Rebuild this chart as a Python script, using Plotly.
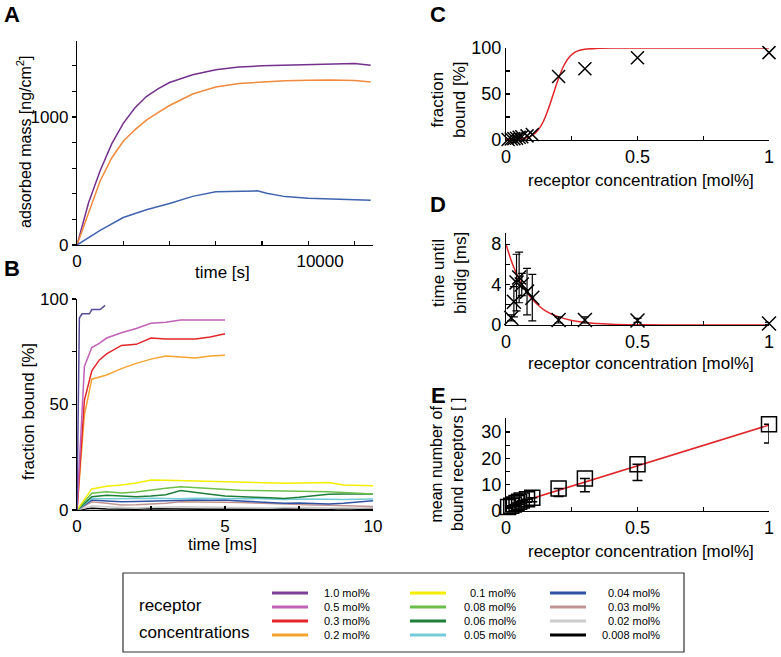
import plotly.graph_objects as go

W, H = 781, 657
FONT = "Liberation Sans, Arial, sans-serif"

# ---------------- data ----------------
# Panel A: adsorbed mass vs time
a_time_purple = [0, 500, 1000, 1500, 2000, 2500, 3000, 3500, 4000, 5000, 6000, 7000, 8000, 9000, 10000, 11000, 12000, 12700]
a_mass_purple = [0, 330, 580, 790, 950, 1070, 1160, 1220, 1270, 1330, 1370, 1390, 1400, 1405, 1410, 1413, 1418, 1405]
a_time_orange = [0, 500, 1000, 1500, 2000, 2500, 3000, 3500, 4000, 5000, 6000, 7000, 8000, 9000, 10000, 11000, 12000, 12700]
a_mass_orange = [0, 250, 500, 680, 810, 900, 975, 1035, 1090, 1180, 1235, 1262, 1275, 1283, 1288, 1290, 1285, 1273]
a_time_blue = [0, 1000, 2000, 3000, 4000, 5000, 6000, 7000, 7800, 8200, 9000, 10000, 11000, 12000, 12700]
a_mass_blue = [0, 115, 215, 275, 325, 380, 416, 422, 423, 405, 378, 366, 360, 355, 350]
a_colors = ["#73308c", "#f08a3c", "#4063ad"]

# Panel B: fraction bound vs time [ms]
b_t_10 = [0, 0.08, 0.17, 0.42, 0.5, 0.78, 0.95]
b_f_10 = [0, 91, 93, 93, 95, 95, 97]
b_t_hi = [0, 0.25, 0.5, 0.75, 1, 1.5, 2, 2.5, 3, 3.5, 4, 4.5, 5]
b_f_05 = [0, 68, 77, 79, 81.5, 84, 86, 88.5, 89, 90, 90, 90, 90]
b_f_03 = [0, 52, 66, 71, 74, 78, 78.5, 81.5, 81, 81, 81, 82, 83.5]
b_f_02 = [0, 45, 62, 63, 64, 67, 69.5, 71.5, 73, 72.5, 72, 73, 73.3]
b_t_lo = [0, 0.5, 1, 1.5, 2, 2.5, 3, 3.5, 4, 4.5, 5, 5.5, 6, 6.5, 7, 7.5, 8, 8.5, 9, 9.5, 10]
b_f_01 = [0, 10, 11.3, 11.8, 12.8, 14.2, 14.1, 13.9, 13.8, 13.6, 13.4, 13.2, 13, 12.6, 12.7, 12.8, 12.9, 13, 11.8, 11.7, 11.5]
b_f_008 = [0, 7.9, 8.7, 8, 8.5, 9.5, 10.3, 11, 10.6, 10, 9.5, 9.4, 9.3, 9.2, 9.1, 9, 8.8, 8.6, 8.3, 8, 7.6]
b_f_006 = [0, 6.3, 7, 6.5, 6.3, 6.6, 7.2, 9.2, 8.5, 7.5, 6.6, 6.2, 6, 5.8, 5.5, 6, 6.8, 7.5, 7.6, 7.6, 7.6]
b_f_005 = [0, 5.5, 5.3, 5.2, 5.4, 5.6, 5.5, 5.3, 5.6, 5.4, 5.2, 5.3, 5.4, 5.2, 5.0, 5.2, 5.3, 5.1, 5.0, 5.0, 5.2]
b_f_004 = [0, 4.7, 4.3, 3.9, 4, 4.2, 4.5, 4.7, 4.7, 4.6, 4.7, 4.3, 4, 3.6, 3.2, 3.3, 3.1, 2.8, 3.2, 3.8, 4.4]
b_f_003 = [0, 3.9, 3.2, 2.4, 2.5, 2.8, 3.2, 3.9, 3.9, 3.9, 3.9, 3.6, 3.3, 3, 2.8, 2.6, 2.4, 2.2, 2, 1.8, 1.6]
b_f_002 = [0, 1.9, 1.5, 1.2, 1.0, 1.2, 1.4, 1.5, 1.4, 1.3, 1.2, 1.2, 1.1, 1.0, 1.2, 1.3, 1.2, 1.0, 0.9, 1.0, 1.1]
b_f_0008 = [0, 0.8, 0.5, 0.3, 0.4, 0.6, 0.5, 0.3, 0.2, 0.3, 0.4, 0.3, 0.2, 0.4, 0.5, 0.3, 0.2, 0.3, 0.6, 0.4, 0.3]

# Legend / series names and colours
conc_labels = ["1.0 mol%", "0.5 mol%", "0.3 mol%", "0.2 mol%",
               "0.1 mol%", "0.08 mol%", "0.06 mol%", "0.05 mol%",
               "0.04 mol%", "0.03 mol%", "0.02 mol%", "0.008 mol%"]
conc_colors = ["#7f3f98", "#c162b8", "#e3262a", "#f5a431",
               "#f2ee00", "#6dbe4b", "#1f7f3a", "#74cbd8",
               "#3153a3", "#c09493", "#cccccc", "#000000"]

# Panels C, D, E
conc = [0.008, 0.02, 0.03, 0.04, 0.05, 0.06, 0.08, 0.1, 0.2, 0.3, 0.5, 1.0]
c_frac = [0.5, 1, 1.5, 2, 3, 3.5, 4.5, 6, 69, 77.5, 89.5, 95]
c_fit_x = [0, 0.05, 0.08, 0.1, 0.12, 0.14, 0.16, 0.18, 0.2, 0.22, 0.24, 0.26, 0.28, 0.3, 0.35, 0.4, 0.5, 0.6, 0.8, 1.0]
c_fit_y = [0.5, 1, 2.5, 5, 10, 19, 33, 50, 67, 81, 90, 95, 97.5, 98.7, 99.6, 99.9, 100, 100, 100, 100]

d_conc = [0.02, 0.03, 0.04, 0.05, 0.06, 0.08, 0.1, 0.2, 0.3, 0.5, 1.0]
d_time = [0.7, 2.3, 4.2, 4.7, 4.0, 3.3, 2.7, 0.5, 0.5, 0.45, 0.15]
d_err = [0.3, 1.5, 2.8, 2.5, 1.1, 2.3, 2.3, 0.3, 0.3, 0.2, 0.1]
d_fit_x = [0, 0.025, 0.05, 0.075, 0.1, 0.125, 0.15, 0.2, 0.25, 0.3, 0.4, 0.5, 0.6, 0.8, 1.0]
d_fit_y = [8, 6.0, 4.5, 3.4, 2.55, 1.9, 1.4, 0.8, 0.45, 0.25, 0.08, 0.025, 0.01, 0, 0]

e_mean = [1.5, 2, 2.5, 3, 3.5, 4, 4.5, 5, 8.5, 12.3, 17.7, 32.9]
e_errminus = [0.5, 0.5, 0.7, 1, 1, 1, 1.2, 1.5, 3.0, 5.0, 6.1, 7.1]
e_fit_x = [0, 1.0]
e_fit_y = [1.7, 32.6]

# ---------------- figure ----------------
def px(x):
    return x / W

def py(y):
    return 1 - y / H

fig = go.Figure()

lw = 1.5
# Panel A
for xs, ys, col in [(a_time_purple, a_mass_purple, a_colors[0]),
                    (a_time_orange, a_mass_orange, a_colors[1]),
                    (a_time_blue, a_mass_blue, a_colors[2])]:
    fig.add_trace(go.Scatter(x=xs, y=ys, mode="lines", line=dict(color=col, width=lw),
                             xaxis="x", yaxis="y", showlegend=False))

# Panel B
b_series = [
    (b_t_lo, b_f_0008, 11), (b_t_lo, b_f_002, 10), (b_t_lo, b_f_003, 9), (b_t_lo, b_f_004, 8),
    (b_t_lo, b_f_005, 7), (b_t_lo, b_f_006, 6), (b_t_lo, b_f_008, 5), (b_t_lo, b_f_01, 4),
    (b_t_hi, b_f_02, 3), (b_t_hi, b_f_03, 2), (b_t_hi, b_f_05, 1), (b_t_10, b_f_10, 0),
]
for xs, ys, i in b_series:
    col = conc_colors[i] if i != 0 else "#5a4a9a"
    fig.add_trace(go.Scatter(x=xs, y=ys, mode="lines", line=dict(color=col, width=lw),
                             xaxis="x2", yaxis="y2", showlegend=False))

red = "#e0262a"
# Panel C
fig.add_trace(go.Scatter(x=c_fit_x, y=c_fit_y, mode="lines", line=dict(color=red, width=lw, shape="spline"),
                         xaxis="x3", yaxis="y3", showlegend=False))
fig.add_trace(go.Scatter(x=conc, y=c_frac, mode="markers",
                         marker=dict(symbol="x-thin", size=13, line=dict(color="black", width=1.5)),
                         xaxis="x3", yaxis="y3", showlegend=False, cliponaxis=False))
# Panel D
fig.add_trace(go.Scatter(x=d_fit_x, y=d_fit_y, mode="lines", line=dict(color=red, width=lw, shape="spline"),
                         xaxis="x4", yaxis="y4", showlegend=False))
fig.add_trace(go.Scatter(x=d_conc, y=d_time, mode="markers",
                         marker=dict(symbol="x-thin", size=14, line=dict(color="black", width=1.5)),
                         error_y=dict(type="data", array=d_err, color="black", thickness=1.2, width=4),
                         xaxis="x4", yaxis="y4", showlegend=False, cliponaxis=False))
# Panel E
fig.add_trace(go.Scatter(x=e_fit_x, y=e_fit_y, mode="lines", line=dict(color=red, width=lw),
                         xaxis="x5", yaxis="y5", showlegend=False))
fig.add_trace(go.Scatter(x=conc, y=e_mean, mode="markers",
                         marker=dict(symbol="square-open", size=15, color="black", line=dict(color="black", width=1.5)),
                         error_y=dict(type="data", symmetric=False, array=[0] * len(conc), arrayminus=e_errminus,
                                      color="black", thickness=1.5, width=5),
                         xaxis="x5", yaxis="y5", showlegend=False, cliponaxis=False))

def axis(domain, rng, tickvals, ticktext, minorvals, ticks, size, anchor):
    return dict(domain=domain, range=rng, tickmode="array", tickvals=tickvals, ticktext=ticktext,
                ticks=ticks, ticklen=4, tickwidth=1.2, tickcolor="black",
                minor=dict(tickmode="array", tickvals=minorvals, ticks=ticks, ticklen=4,
                           tickwidth=1.2, tickcolor="black", showgrid=False),
                showline=True, linecolor="black", linewidth=1.2, showgrid=False, zeroline=False,
                automargin=False,
                tickfont=dict(family=FONT, size=size, color="black"), anchor=anchor, fixedrange=True)

xdomA = [px(77), px(373)]
xdomR = [px(506), px(769)]
nb = "\u00a0"
layout_axes = dict(
    xaxis=axis(xdomA, [0, 12800], [0, 10000], ["0", nb * 5 + "10000"],
               [2000, 4000, 6000, 8000, 12000], "inside", 17, "y"),
    yaxis=axis([py(245), py(41)], [0, 1594], [0, 1000], ["0", "1000"],
               [200, 400, 600, 800, 1200, 1400], "outside", 17, "x"),
    xaxis2=axis(xdomA, [0, 10], [0, 5, 10], ["0", "5", "10"], [2.5, 7.5], "inside", 17, "y2"),
    yaxis2=axis([py(510), py(299)], [0, 100], [0, 50, 100], ["0", "50", "100"], [25, 75], "outside", 17, "x2"),
    xaxis3=axis(xdomR, [0, 1], [0, 0.5, 1], ["0", "0.5", "1"], [0.25, 0.75], "inside", 18, "y3"),
    yaxis3=axis([py(140), py(48)], [0, 100], [0, 50, 100], ["0", "50", "100"], [25, 75], "inside", 18, "x3"),
    xaxis4=axis(xdomR, [0, 1], [0, 0.5, 1], ["0", "0.5", "1"], [0.25, 0.75], "inside", 18, "y4"),
    yaxis4=axis([py(325), py(233)], [0, 9.1], [0, 4, 8], ["0", "4", "8"], [2, 6], "inside", 18, "x4"),
    xaxis5=axis(xdomR, [0, 1], [0, 0.5, 1], ["0", "0.5", "1"], [0.25, 0.75], "inside", 18, "y5"),
    yaxis5=axis([py(511), py(418)], [0, 35.3], [0, 10, 20, 30], ["0", "10", "20", "30"],
                [5, 15, 25], "inside", 18, "x5"),
)

ann = []
def text(x, y, s, size=17, angle=0, bold=False, xanchor="center", align="center"):
    ann.append(dict(x=px(x), y=py(y), xref="paper", yref="paper", text=("<b>%s</b>" % s) if bold else s,
                    showarrow=False, textangle=angle, xanchor=xanchor, yanchor="middle", align=align,
                    font=dict(family=FONT, size=size, color="black")))

# panel letters
text(12, 15, "A", 22, bold=True)
text(12, 268, "B", 22, bold=True)
text(438, 15, "C", 22, bold=True)
text(438, 204, "D", 22, bold=True)
text(438, 395, "E", 22, bold=True)
# axis titles
text(222, 272, "time [s]", 17)
text(222, 544, "time [ms]", 17)
text(641, 180, "receptor concentration [mol%]", 17)
text(641, 363, "receptor concentration [mol%]", 17)
text(641, 551, "receptor concentration [mol%]", 17)
text(24, 142, "adsorbed mass [ng/cm<sup>2</sup>]", 16, angle=-90)
text(28, 412, "fraction bound [%]", 17, angle=-90)
text(448, 100, "fraction<br>bound [%]", 17, angle=-90)
text(449, 273, "time until<br>bindig [ms]", 17, angle=-90)
text(447, 465, "mean number of<br>bound receptors [ ]", 16, angle=-90)

# legend (drawn from the label / colour arrays)
shapes = [dict(type="rect", xref="paper", yref="paper", x0=px(123), x1=px(684), y0=py(652), y1=py(573),
               line=dict(color="#333333", width=1.2), fillcolor="white", layer="below")]
text(137, 605, "receptor", 17, xanchor="left")
text(137, 632, "concentrations", 17, xanchor="left")
col_line_x = [(272, 308), (410, 446), (550, 586)]
col_text_r = [372, 518, 662]
row_y = [593, 607, 621, 635]
for i, (lab, col) in enumerate(zip(conc_labels, conc_colors)):
    c, r = divmod(i, 4)
    x0, x1 = col_line_x[c]
    yy = row_y[r]
    shapes.append(dict(type="line", xref="paper", yref="paper", x0=px(x0), x1=px(x1), y0=py(yy), y1=py(yy),
                       line=dict(color=col, width=3)))
    text(col_text_r[c], yy, lab, 11, xanchor="right")

fig.update_layout(width=W, height=H, autosize=False, margin=dict(l=0, r=0, t=0, b=0, pad=0),
                  paper_bgcolor="white", plot_bgcolor="white", showlegend=False,
                  annotations=ann, shapes=shapes,
                  font=dict(family=FONT, color="black"), **layout_axes)

fig.write_html("out.html", config={"displayModeBar": False, "staticPlot": True},
               post_script="document.body.style.margin='0';document.body.style.padding='0';")
